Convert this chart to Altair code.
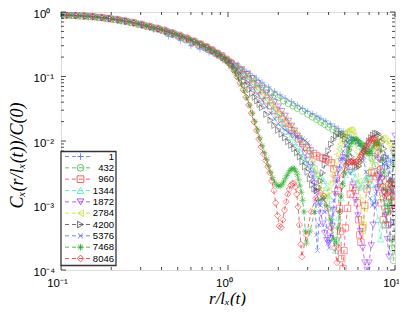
import altair as alt
import pandas as pd

SERIES = ["1", "432", "960", "1344", "1872", "2784", "4200", "5376", "7468", "8046"]
COLORS = ["#5470ff", "#33b533", "#ff3a3a", "#3ff0b4", "#9933ff", "#c3e02e",
          "#4d4d4d", "#4a66ff", "#22aa22", "#ff2424"]
SHAPES = ["M-1,0L1,0M0,-1L0,1", "circle", "square", "triangle-up", "triangle-down",
          "triangle-left", "triangle-right", "M-0.75,-0.75L0.75,0.75M-0.75,0.75L0.75,-0.75",
          "M-1,0L1,0M0,-1L0,1M-0.7,-0.7L0.7,0.7M-0.7,0.7L0.7,-0.7", "diamond"]

# head of the collapsed curves (x <= 1), four samplings
HEAD_A_X = [0.1, 0.112, 0.126, 0.142, 0.16, 0.18, 0.2, 0.225, 0.25, 0.28, 0.315, 0.35, 0.39,
            0.435, 0.48, 0.53, 0.585, 0.64, 0.7, 0.76, 0.82, 0.88, 0.94, 1.0]
HEAD_A_Y = [0.9, 0.89, 0.875, 0.86, 0.84, 0.81, 0.78, 0.745, 0.71, 0.67, 0.62, 0.58, 0.54,
            0.495, 0.455, 0.415, 0.375, 0.34, 0.305, 0.275, 0.245, 0.22, 0.195, 0.175]
HEAD_B_X = [0.105, 0.118, 0.133, 0.15, 0.17, 0.19, 0.212, 0.237, 0.265, 0.297, 0.332, 0.37,
            0.41, 0.455, 0.505, 0.555, 0.61, 0.67, 0.73, 0.79, 0.85, 0.91, 0.97]
HEAD_B_Y = [0.895, 0.885, 0.87, 0.85, 0.825, 0.795, 0.765, 0.73, 0.69, 0.645, 0.6, 0.56,
            0.52, 0.475, 0.435, 0.395, 0.355, 0.32, 0.29, 0.26, 0.23, 0.21, 0.185]
HEAD_C_X = [0.102, 0.115, 0.13, 0.146, 0.165, 0.185, 0.206, 0.23, 0.258, 0.29, 0.325, 0.36,
            0.4, 0.445, 0.49, 0.54, 0.595, 0.655, 0.715, 0.775, 0.835, 0.895, 0.955]
HEAD_C_Y = [0.9, 0.885, 0.872, 0.855, 0.83, 0.805, 0.77, 0.735, 0.7, 0.655, 0.61, 0.57,
            0.53, 0.485, 0.445, 0.405, 0.365, 0.33, 0.295, 0.265, 0.238, 0.213, 0.19]
HEAD_D_X = [0.108, 0.122, 0.138, 0.155, 0.175, 0.195, 0.218, 0.243, 0.272, 0.305, 0.34, 0.38,
            0.42, 0.465, 0.515, 0.57, 0.625, 0.685, 0.745, 0.805, 0.865, 0.925, 0.985]
HEAD_D_Y = [0.893, 0.88, 0.865, 0.845, 0.82, 0.79, 0.76, 0.72, 0.68, 0.635, 0.59, 0.55,
            0.51, 0.47, 0.425, 0.385, 0.35, 0.315, 0.283, 0.253, 0.227, 0.202, 0.18]

S1 = [(0.1, 0.9), (0.12, 0.88), (0.15, 0.85), (0.19, 0.8), (0.24, 0.72), (0.3, 0.63), (0.36, 0.53),
      (0.44, 0.42), (0.52, 0.36), (0.6, 0.3), (0.68, 0.265), (0.77, 0.235), (0.86, 0.21), (0.95, 0.19),
      (1.05, 0.17), (1.15, 0.15), (1.25, 0.13), (1.36, 0.112), (1.48, 0.095), (1.6, 0.081), (1.75, 0.069),
      (1.9, 0.059), (2.05, 0.052), (2.2, 0.046), (2.4, 0.041), (2.6, 0.036), (2.8, 0.032), (3.0, 0.029),
      (3.2, 0.0265), (3.4, 0.0245), (3.6, 0.0225), (3.85, 0.0205), (4.1, 0.0185), (4.35, 0.017),
      (4.6, 0.0155), (4.9, 0.014), (5.2, 0.0125), (5.5, 0.0113), (5.8, 0.0102), (6.1, 0.0092),
      (6.4, 0.0084), (6.7, 0.0076), (7.0, 0.007), (7.3, 0.0064), (7.6, 0.0059), (7.9, 0.0055),
      (8.2, 0.0051), (8.5, 0.0055), (8.8, 0.006), (9.1, 0.0054), (9.4, 0.0047), (9.7, 0.0051), (10.0, 0.0057)]

TAIL_432 = [(1.06, 0.155), (1.12, 0.14), (1.2, 0.125), (1.3, 0.108), (1.4, 0.093), (1.5, 0.08), (1.6, 0.07),
            (1.7, 0.062), (1.8, 0.056), (1.9, 0.051), (2.0, 0.047), (2.15, 0.042), (2.3, 0.038), (2.45, 0.035),
            (2.6, 0.032), (2.8, 0.029), (3.0, 0.026), (3.2, 0.0235), (3.4, 0.0215), (3.6, 0.0195), (3.8, 0.018),
            (4.0, 0.0165), (4.25, 0.015), (4.5, 0.0138), (4.75, 0.0127), (5.0, 0.0118), (5.25, 0.011),
            (5.5, 0.0104), (5.75, 0.0099), (6.0, 0.0095), (6.25, 0.009), (6.5, 0.0084), (6.75, 0.0076),
            (7.0, 0.0066), (7.3, 0.0054), (7.6, 0.0042), (7.9, 0.003), (8.2, 0.002), (8.5, 0.0013),
            (8.8, 8e-4), (9.1, 5e-4), (9.4, 3.2e-4), (9.6, 2.2e-4), (9.8, 1.4e-4), (10.0, 2.6e-4)]

TAIL_960 = [(1.03, 0.165), (1.1, 0.145), (1.17, 0.125), (1.24, 0.107), (1.32, 0.09), (1.4, 0.076), (1.5, 0.062),
            (1.6, 0.051), (1.7, 0.042), (1.8, 0.035), (1.9, 0.03), (2.0, 0.026), (2.1, 0.022), (2.2, 0.019),
            (2.3, 0.0165), (2.4, 0.0145), (2.5, 0.0128), (2.65, 0.0108), (2.8, 0.0092), (2.95, 0.008),
            (3.1, 0.0071), (3.25, 0.0064), (3.4, 0.0059), (3.55, 0.0056), (3.7, 0.0054), (3.85, 0.0053),
            (4.0, 0.0051), (4.15, 0.0046), (4.3, 0.0037), (4.45, 0.0026), (4.55, 0.0017), (4.65, 9e-4),
            (4.72, 4e-4), (4.8, 1.5e-4), (4.88, 1.05e-4), (4.95, 2e-4), (5.05, 4.5e-4), (5.2, 9e-4),
            (5.4, 1.5e-3), (5.6, 1.9e-3), (5.8, 1.7e-3), (5.95, 1.1e-3), (6.05, 6e-4), (6.15, 3.5e-4),
            (6.25, 2.7e-4), (6.4, 4.5e-4), (6.6, 1e-3), (6.8, 1.8e-3), (7.0, 2.6e-3), (7.25, 3.2e-3),
            (7.5, 3.3e-3), (7.75, 2.8e-3), (8.0, 1.9e-3), (8.25, 1.1e-3), (8.5, 6e-4), (8.75, 5e-4),
            (9.0, 8e-4), (9.25, 1.4e-3), (9.5, 2.1e-3), (9.75, 1.8e-3), (10.0, 1.1e-3)]

TAIL_1344 = [(1.02, 0.168), (1.1, 0.148), (1.2, 0.122), (1.3, 0.1), (1.4, 0.081), (1.5, 0.066), (1.6, 0.053),
             (1.7, 0.043), (1.8, 0.035), (1.9, 0.029), (2.0, 0.024), (2.1, 0.02), (2.2, 0.0165), (2.3, 0.0138),
             (2.4, 0.0115), (2.5, 0.0096), (2.6, 0.008), (2.7, 0.0068), (2.8, 0.0058), (2.9, 0.005),
             (3.0, 0.0044), (3.15, 0.0038), (3.3, 0.0034), (3.45, 0.0031), (3.6, 0.0028), (3.75, 0.0024),
             (3.9, 0.0019), (4.0, 0.0014), (4.1, 9e-4), (4.2, 5.5e-4), (4.3, 3e-4), (4.4, 2e-4), (4.5, 3e-4),
             (4.6, 6.5e-4), (4.75, 1.3e-3), (4.9, 2.2e-3), (5.05, 3e-3), (5.2, 3.5e-3), (5.4, 3.6e-3),
             (5.6, 3.3e-3), (5.8, 2.7e-3), (6.0, 2.2e-3), (6.2, 1.9e-3), (6.4, 2e-3), (6.6, 2.5e-3),
             (6.8, 2.9e-3), (7.0, 2.8e-3), (7.3, 2.1e-3), (7.6, 1.2e-3), (7.9, 6e-4), (8.2, 3e-4),
             (8.5, 5e-4), (8.8, 1.1e-3), (9.1, 1.9e-3), (9.4, 2.5e-3), (9.7, 2.2e-3), (10.0, 1.5e-3)]

TAIL_1872 = [(1.05, 0.16), (1.12, 0.145), (1.2, 0.128), (1.3, 0.11), (1.4, 0.094), (1.5, 0.079), (1.6, 0.066),
             (1.7, 0.056), (1.8, 0.047), (1.9, 0.04), (2.0, 0.034), (2.1, 0.029), (2.2, 0.0245), (2.3, 0.0205),
             (2.4, 0.0172), (2.5, 0.0144), (2.6, 0.012), (2.7, 0.0098), (2.8, 0.008), (2.9, 0.0064),
             (3.0, 0.005), (3.1, 0.0039), (3.2, 0.003), (3.3, 0.0022), (3.4, 0.0016), (3.5, 1.1e-3),
             (3.6, 7.5e-4), (3.7, 5.2e-4), (3.8, 3.7e-4), (3.9, 2.9e-4), (4.0, 2.6e-4), (4.1, 3.1e-4),
             (4.2, 4.8e-4), (4.3, 8.5e-4), (4.4, 1.5e-3), (4.5, 2.5e-3), (4.6, 3.6e-3), (4.75, 4.9e-3),
             (4.9, 5.6e-3), (5.05, 5.4e-3), (5.2, 4.6e-3), (5.4, 3.3e-3), (5.6, 2.1e-3), (5.8, 1.2e-3),
             (6.0, 7e-4), (6.2, 4e-4), (6.4, 2.2e-4), (6.6, 1.3e-4), (6.8, 1e-4), (7.0, 1.3e-4), (7.2, 2.4e-4),
             (7.4, 5e-4), (7.6, 1e-3), (7.8, 1.8e-3), (8.0, 2.6e-3), (8.2, 3e-3), (8.4, 2.6e-3), (8.6, 1.6e-3),
             (8.8, 7e-4), (9.0, 3e-4), (9.2, 1.6e-4), (9.4, 5e-4), (9.6, 2.4e-3), (9.8, 6.5e-3), (10.0, 0.012)]

TAIL_2784 = [(1.05, 0.158), (1.12, 0.142), (1.2, 0.125), (1.3, 0.104), (1.4, 0.086), (1.5, 0.071), (1.6, 0.059),
             (1.7, 0.049), (1.8, 0.041), (1.9, 0.035), (2.0, 0.03), (2.1, 0.026), (2.2, 0.0222), (2.3, 0.019),
             (2.4, 0.0164), (2.5, 0.0142), (2.6, 0.0123), (2.7, 0.0106), (2.8, 0.0092), (2.9, 0.0079),
             (3.0, 0.0067), (3.1, 0.0056), (3.2, 0.0046), (3.3, 0.0037), (3.4, 0.0029), (3.5, 0.0022),
             (3.6, 0.0017), (3.7, 0.0014), (3.8, 0.0013), (3.9, 0.0014), (4.0, 0.0017), (4.1, 0.0022),
             (4.2, 0.0029), (4.3, 0.0038), (4.4, 0.0049), (4.5, 0.0062), (4.6, 0.0076), (4.7, 0.009),
             (4.8, 0.0104), (4.9, 0.0117), (5.0, 0.0128), (5.1, 0.0137), (5.2, 0.0144), (5.3, 0.0148),
             (5.4, 0.015), (5.5, 0.0148), (5.6, 0.0138), (5.7, 0.012), (5.8, 0.0095), (5.9, 0.0068),
             (6.0, 0.0043), (6.1, 0.0024), (6.2, 1.2e-3), (6.3, 6e-4), (6.4, 4e-4), (6.5, 5e-4), (6.6, 9e-4),
             (6.8, 2e-3), (7.0, 3.5e-3), (7.2, 5e-3), (7.4, 6.5e-3), (7.6, 8e-3), (7.8, 9.3e-3), (8.0, 0.0103),
             (8.25, 0.011), (8.5, 0.0112), (8.75, 0.0108), (9.0, 0.01), (9.25, 0.009), (9.5, 0.0078),
             (9.75, 0.0064), (10.0, 0.005)]

TAIL_4200 = [(1.05, 0.15), (1.1, 0.13), (1.15, 0.112), (1.2, 0.097), (1.25, 0.084), (1.3, 0.073), (1.35, 0.063),
             (1.4, 0.055), (1.45, 0.048), (1.5, 0.042), (1.55, 0.037), (1.6, 0.033), (1.7, 0.026), (1.8, 0.021),
             (1.9, 0.0175), (2.0, 0.0148), (2.1, 0.0128), (2.2, 0.0112), (2.3, 0.0098), (2.4, 0.0086),
             (2.5, 0.0076), (2.6, 0.0066), (2.7, 0.0057), (2.8, 0.0048), (2.9, 0.004), (3.0, 0.0033),
             (3.1, 0.0026), (3.2, 0.0021), (3.3, 0.0018), (3.4, 0.0017), (3.5, 0.0019), (3.6, 0.0024),
             (3.7, 0.0032), (3.8, 0.0043), (3.9, 0.0056), (4.0, 0.007), (4.15, 0.0089), (4.3, 0.0106),
             (4.45, 0.012), (4.6, 0.0129), (4.75, 0.013), (4.9, 0.0123), (5.05, 0.0108), (5.2, 0.009),
             (5.35, 0.0072), (5.5, 0.0057), (5.65, 0.0047), (5.8, 0.0041), (5.95, 0.0039), (6.1, 0.0041),
             (6.25, 0.0047), (6.4, 0.0056), (6.6, 0.0069), (6.8, 0.0084), (7.0, 0.0099), (7.2, 0.0112),
             (7.4, 0.0123), (7.6, 0.013), (7.8, 0.0132), (8.0, 0.0127), (8.2, 0.0114), (8.4, 0.0096),
             (8.6, 0.0076), (8.8, 0.0056), (9.0, 0.0039), (9.2, 0.0026), (9.4, 0.0016), (9.6, 1e-3),
             (9.8, 5.5e-4), (10.0, 3e-4)]

TAIL_5376 = [(1.03, 0.163), (1.1, 0.14), (1.17, 0.118), (1.24, 0.099), (1.32, 0.082), (1.4, 0.068), (1.5, 0.054),
             (1.6, 0.043), (1.7, 0.034), (1.8, 0.027), (1.9, 0.022), (2.0, 0.0185), (2.1, 0.0162), (2.2, 0.0147),
             (2.3, 0.0136), (2.4, 0.0128), (2.5, 0.0122), (2.6, 0.0117), (2.7, 0.0113), (2.8, 0.0108),
             (2.9, 0.0102), (3.0, 0.0094), (3.08, 0.0082), (3.15, 0.0066), (3.22, 0.0045), (3.28, 0.0025),
             (3.33, 1.1e-3), (3.38, 3.5e-4), (3.43, 2e-4), (3.5, 5e-4), (3.58, 1e-3), (3.66, 1.3e-3),
             (3.74, 1.2e-3), (3.82, 8e-4), (3.9, 4.5e-4), (3.97, 2.6e-4), (4.04, 2.2e-4), (4.12, 3.5e-4),
             (4.2, 6.5e-4), (4.3, 1.2e-3), (4.45, 2.3e-3), (4.6, 3.7e-3), (4.75, 5.3e-3), (4.9, 7e-3),
             (5.05, 8.5e-3), (5.2, 9.6e-3), (5.35, 0.0105), (5.5, 0.011), (5.65, 0.011), (5.8, 0.0106),
             (5.95, 0.0098), (6.1, 0.0087), (6.3, 0.007), (6.5, 0.005), (6.7, 0.0033), (6.9, 0.002),
             (7.1, 1.3e-3), (7.3, 1e-3), (7.5, 1.1e-3), (7.7, 1.5e-3), (7.9, 2.2e-3), (8.1, 3e-3),
             (8.3, 3.8e-3), (8.5, 4.4e-3), (8.7, 4.7e-3), (8.9, 4.6e-3), (9.1, 4e-3), (9.3, 3.2e-3),
             (9.5, 2.4e-3), (9.7, 1.8e-3), (9.9, 1.5e-3)]

TAIL_7468 = [(1.0, 0.17), (1.05, 0.14), (1.1, 0.115), (1.15, 0.094), (1.2, 0.076), (1.25, 0.06), (1.3, 0.047),
             (1.35, 0.036), (1.4, 0.027), (1.45, 0.02), (1.5, 0.015), (1.55, 0.0112), (1.6, 0.0085),
             (1.65, 0.0066), (1.7, 0.0052), (1.75, 0.0041), (1.8, 0.0033), (1.85, 0.0027), (1.9, 0.0023),
             (1.95, 0.0021), (2.0, 0.002), (2.05, 0.002), (2.1, 0.0021), (2.15, 0.0023), (2.2, 0.0026),
             (2.25, 0.0029), (2.3, 0.0032), (2.35, 0.0035), (2.4, 0.0037), (2.45, 0.0038), (2.5, 0.0037),
             (2.55, 0.0034), (2.6, 0.003), (2.65, 0.0025), (2.7, 0.002), (2.75, 0.0016), (2.8, 0.0012),
             (2.85, 8e-4), (2.9, 4e-4), (2.95, 2.6e-4), (3.1, 4e-4), (3.3, 8e-4), (3.5, 1.2e-3), (3.7, 1.3e-3),
             (3.9, 1e-3), (4.1, 6e-4), (4.3, 3e-4), (4.45, 2.6e-4), (4.55, 4.5e-4), (4.65, 8e-4),
             (4.75, 1.4e-3), (4.85, 2.2e-3), (4.95, 3.2e-3), (5.05, 4.4e-3), (5.15, 5.7e-3), (5.25, 7e-3),
             (5.35, 8.2e-3), (5.45, 9.2e-3), (5.6, 0.0102), (5.75, 0.0108), (5.9, 0.0107), (6.05, 0.0101),
             (6.2, 0.0093), (6.35, 0.0084), (6.5, 0.0075), (6.65, 0.0068), (6.8, 0.0064), (6.95, 0.0064),
             (7.1, 0.0068), (7.25, 0.0075), (7.4, 0.0084), (7.55, 0.0092), (7.7, 0.0096), (7.85, 0.0094),
             (8.0, 0.0086), (8.2, 0.007), (8.4, 0.005), (8.6, 0.0032), (8.8, 0.0018), (9.0, 1e-3),
             (9.2, 8e-4), (9.4, 1.2e-3), (9.6, 2.4e-3), (9.8, 4.2e-3), (10.0, 6e-3)]

TAIL_8046 = [(1.03, 0.155), (1.08, 0.125), (1.13, 0.1), (1.18, 0.079), (1.23, 0.062), (1.28, 0.048),
             (1.33, 0.036), (1.38, 0.027), (1.43, 0.0198), (1.48, 0.0145), (1.53, 0.0107), (1.58, 0.0081),
             (1.63, 0.0063), (1.68, 0.005), (1.73, 0.004), (1.78, 0.0032), (1.83, 0.0024), (1.88, 0.0017),
             (1.93, 0.0011), (1.98, 7e-4), (2.03, 4.8e-4), (2.08, 4.6e-4), (2.13, 6e-4), (2.18, 8.5e-4),
             (2.23, 1.15e-3), (2.28, 1.5e-3), (2.33, 1.8e-3), (2.38, 2.05e-3), (2.43, 2.2e-3), (2.48, 2.2e-3),
             (2.53, 1.95e-3), (2.58, 1.5e-3), (2.63, 9.5e-4), (2.68, 5e-4), (2.73, 2.5e-4), (2.77, 1.6e-4),
             (2.95, 3.5e-4), (3.15, 8e-4), (3.35, 1.3e-3), (3.55, 1.6e-3), (3.75, 1.4e-3), (3.95, 9e-4),
             (4.15, 4.5e-4), (4.35, 2.2e-4), (4.5, 1.3e-4), (4.6, 2.2e-4), (4.7, 8e-4), (4.8, 2e-3),
             (4.9, 3e-3), (5.0, 3.7e-3), (5.1, 4.2e-3), (5.2, 4.5e-3), (5.3, 4.7e-3), (5.4, 4.8e-3),
             (5.5, 4.8e-3), (5.6, 4.8e-3), (5.7, 4.7e-3), (5.8, 4.7e-3), (5.9, 4.8e-3), (6.0, 5e-3),
             (6.1, 5.3e-3), (6.2, 5.7e-3), (6.3, 6.1e-3), (6.4, 6.5e-3), (6.5, 6.9e-3), (6.6, 7.4e-3),
             (6.7, 7.9e-3), (6.8, 8.5e-3), (6.9, 9.1e-3), (7.0, 9.7e-3), (7.1, 0.0102), (7.2, 0.0107),
             (7.3, 0.011), (7.4, 0.0111), (7.5, 0.0109), (7.6, 0.0103), (7.7, 0.0093), (7.8, 0.008),
             (7.9, 0.0066), (8.0, 0.0053), (8.15, 0.0038), (8.3, 0.0027), (8.45, 0.002), (8.6, 0.0016),
             (8.75, 0.0014), (8.9, 0.0015), (9.05, 0.0018), (9.2, 0.0022), (9.35, 0.0024), (9.5, 0.0023),
             (9.65, 0.0019), (9.8, 0.0014), (9.95, 9e-4)]

HEADS = {"A": (HEAD_A_X, HEAD_A_Y), "B": (HEAD_B_X, HEAD_B_Y),
         "C": (HEAD_C_X, HEAD_C_Y), "D": (HEAD_D_X, HEAD_D_Y)}
PARTS = {
    "432": ("A", TAIL_432), "960": ("B", TAIL_960), "1344": ("C", TAIL_1344),
    "1872": ("D", TAIL_1872), "2784": ("D", TAIL_2784), "4200": ("A", TAIL_4200),
    "5376": ("B", TAIL_5376), "7468": ("C", TAIL_7468), "8046": ("D", TAIL_8046),
}

rows = []
for s in SERIES:
    if s == "1":
        pts = S1
    else:
        hk, tail = PARTS[s]
        hx, hy = HEADS[hk]
        pts = list(zip(hx, hy)) + tail
    for i, (x, y) in enumerate(pts):
        rows.append({"series": s, "r": x, "c": y, "i": i})
df = pd.DataFrame(rows)
leg_df = pd.DataFrame({"series": SERIES})

Y_MAJOR = [1e-4, 1e-3, 1e-2, 1e-1, 1.0]
Y_MINOR = [k * 10.0 ** e for e in (-4, -3, -2, -1) for k in range(2, 10)]
X_MAJOR = [0.1, 1.0, 10.0]
X_MINOR = [k * 10.0 ** e for e in (-1, 0) for k in range(2, 10)]

W, H = 334, 258
xscale = alt.Scale(type="log", domain=[0.1, 10], nice=False)
yscale = alt.Scale(type="log", domain=[1e-4, 1], nice=False)
cscale = alt.Scale(domain=SERIES, range=COLORS)
sscale = alt.Scale(domain=SERIES, range=SHAPES)

sup_y = ("datum.value < 0.0005 ? '10⁻⁴' : datum.value < 0.005 ? '10⁻³' : "
         "datum.value < 0.05 ? '10⁻²' : datum.value < 0.5 ? '10⁻¹' : '10⁰'")
sup_x = "datum.value < 0.5 ? '10⁻¹' : datum.value < 5 ? '10⁰' : '10¹'"

xaxis = alt.Axis(values=X_MAJOR, labelExpr=sup_x, ticks=False, tickSize=0, grid=False, domain=False,
                 labelFont="Liberation Sans", labelFontSize=11.5, labelColor="black", labelPadding=7,
                 labelOffset=-4, labelFlush=False, labelOverlap=False,
                 title="r/lₓ(t)", titleFont="Liberation Serif", titleFontStyle="italic",
                 titleFontWeight="normal", titleFontSize=17, titleColor="black", titleX=166, titleY=33,
                 titleBaseline="alphabetic", titleAlign="center")
yaxis = alt.Axis(values=Y_MAJOR, labelExpr=sup_y, ticks=False, tickSize=0, grid=False, domain=False,
                 labelFont="Liberation Sans", labelFontSize=11.5, labelColor="black", labelPadding=28,
                 labelAlign="left", labelOffset=2, labelFlush=False, labelOverlap=False,
                 title="Cₓ(r/lₓ(t))/C(0)", titleFont="Liberation Serif",
                 titleFontStyle="italic", titleFontWeight="normal", titleFontSize=18, titleColor="black",
                 titleX=-39, titleY=143, titleAngle=-90, titleBaseline="alphabetic", titleAlign="center")

lines = alt.Chart(df).mark_line(strokeDash=[4, 3], strokeWidth=0.7, clip=True).encode(
    x=alt.X("r:Q", scale=xscale, axis=xaxis),
    y=alt.Y("c:Q", scale=yscale, axis=yaxis),
    color=alt.Color("series:N", scale=cscale, legend=None),
    detail="series:N",
    order="i:Q",
)
points = alt.Chart(df).mark_point(filled=False, size=40, strokeWidth=0.75, clip=True).encode(
    x=alt.X("r:Q", scale=xscale, axis=xaxis),
    y=alt.Y("c:Q", scale=yscale, axis=None),
    color=alt.Color("series:N", scale=cscale, legend=None),
    shape=alt.Shape("series:N", scale=sscale, legend=None),
)

ymaj = pd.DataFrame({"v": Y_MAJOR})
ymin = pd.DataFrame({"v": Y_MINOR})
xmaj = pd.DataFrame({"r": X_MAJOR})
xmin = pd.DataFrame({"r": X_MINOR})

def yticks(d, a, b):
    return alt.Chart(d).mark_rule(color="black", strokeWidth=0.7).encode(
        y=alt.Y("v:Q", scale=yscale, axis=None), x=alt.value(a), x2=alt.value(b))

def xticks(d, a, b):
    return alt.Chart(d).mark_rule(color="black", strokeWidth=0.7).encode(
        x=alt.X("r:Q", scale=xscale, axis=xaxis), y=alt.value(a), y2=alt.value(b))

ticks = [yticks(ymaj, 0, 5), yticks(ymin, 0, 3), yticks(ymaj, W, W - 5), yticks(ymin, W, W - 3),
         xticks(xmaj, H, H - 5), xticks(xmin, H, H - 3), xticks(xmaj, 0, 5), xticks(xmin, 0, 3)]

# legend box drawn inside the plot (lower left)
LEG_TOP, LEG_BOTTOM, LEG_W = 139.5, 253.5, 55
lrow = alt.Scale(type="point", domain=SERIES, range=[144.5, 246.5], padding=0)

leg_box = alt.Chart(pd.DataFrame({"k": [0]})).mark_rect(
    fill="white", stroke="#333333", strokeWidth=1.3).encode(
    x=alt.value(0), x2=alt.value(LEG_W), y=alt.value(LEG_TOP), y2=alt.value(LEG_BOTTOM))
leg_line = alt.Chart(leg_df).mark_rule(strokeDash=[4, 3], strokeWidth=0.8).encode(
    x=alt.value(4), x2=alt.value(31),
    y=alt.Y("series:N", scale=lrow, axis=None),
    color=alt.Color("series:N", scale=cscale, legend=None))
leg_pt = alt.Chart(leg_df).mark_point(filled=False, size=45, strokeWidth=0.8, opacity=1).encode(
    x=alt.value(19.5),
    y=alt.Y("series:N", scale=lrow, axis=None),
    color=alt.Color("series:N", scale=cscale, legend=None),
    shape=alt.Shape("series:N", scale=sscale, legend=None))
leg_txt = alt.Chart(leg_df).mark_text(align="right", baseline="middle", font="Liberation Sans",
                                      fontSize=9.5, color="black").encode(
    x=alt.value(53),
    y=alt.Y("series:N", scale=lrow, axis=None),
    text="series:N")

chart = alt.layer(lines, points, *ticks, leg_box, leg_line, leg_pt, leg_txt).resolve_scale(
    y="independent").properties(
    width=W, height=H, autosize="none",
    padding={"left": 53, "top": 4, "right": 4, "bottom": 36},
).configure_view(stroke="black", strokeWidth=1).configure(background="white")

chart.save("out.html", embed_options={"renderer": "svg", "actions": False})
